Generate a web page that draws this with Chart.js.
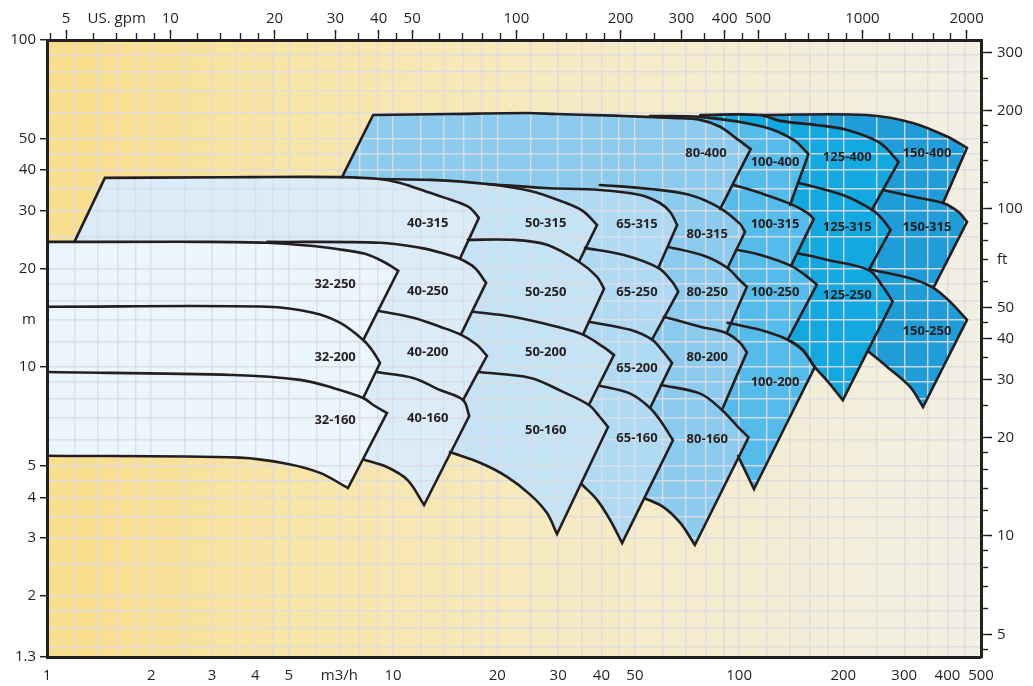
<!DOCTYPE html>
<html>
<head>
<meta charset="utf-8">
<script src="https://cdn.jsdelivr.net/npm/chart.js@4.4.1/dist/chart.umd.min.js"></script>
<style>
  html, body { margin: 0; padding: 0; background: #fff; }
  #wrap { width: 1033px; height: 686px; position: relative; }
</style>
</head>
<body>
<div id="wrap"><canvas id="pumpChart"></canvas></div>
<script>
// axes: flow Q in m3/h (bottom), head H in m (left)
const gridFlow = [1,1.2,1.4,1.6,1.8,2,2.5,3,3.5,4,4.5,5,6,7,8,9,10,12,14,16,18,20,25,30,35,40,45,50,60,70,80,90,100,120,140,160,180,200,250,300,350,400,450,500];
const gridHead = [1.3,1.4,1.6,1.8,2,2.5,3,3.5,4,4.5,5,6,7,8,9,10,12,14,16,18,20,25,30,35,40,45,50,60,70,80,90,100];
const flowLabels = [[1,'1'],[2,'2'],[3,'3'],[4,'4'],[5,'5'],[7,'m3/h'],[10,'10'],[20,'20'],[30,'30'],[40,'40'],[50,'50'],[100,'100'],[200,'200'],[300,'300'],[400,'400'],[500,'500']];
const headLabels = [[1.3,'1.3'],[2,'2'],[3,'3'],[4,'4'],[5,'5'],[10,'10'],[14,'m'],[20,'20'],[30,'30'],[40,'40'],[50,'50'],[100,'100']];
const gpmTicks = [4.5,5,6,7,8,9,10,12,14,16,18,20,25,30,35,40,45,50,60,70,80,90,100,120,140,160,180,200,250,300,350,400,450,500,600,700,800,900,1000,1200,1400,1600,1800,2000];
const gpmLabels = [[5,'5'],[7,'US. gpm'],[10,'10'],[20,'20'],[30,'30'],[40,'40'],[50,'50'],[100,'100'],[200,'200'],[300,'300'],[400,'400'],[500,'500'],[1000,'1000'],[2000,'2000']];
const ftTicks = [4.5,5,6,7,8,9,10,12,14,16,18,20,25,30,35,40,45,50,60,70,80,90,100,120,140,160,180,200,250,300];
const ftLabels = [[5,'5'],[10,'10'],[20,'20'],[30,'30'],[40,'40'],[50,'50'],[70,'ft'],[100,'100'],[200,'200'],[300,'300']];

const GPM = 4.402868;   // US gpm per m3/h
const FT = 3.28084;     // ft per m

// selection fields, [Q, H]: edge = top curve -> tip -> right edge (-> bottom curve),
// under = extra corners tucked beneath the neighbouring fields
const fam150 = [
  { name: '150-400', edge: [[114.8,59.0],[233.9,59.0],[317.4,55.8],[398.9,50.7],[455.5,46.8],[388.4,31.75]], under: [[223.7,31.75],[223.7,49.5]], at: [349.1,45.1] },
  { name: '150-315', edge: [[260.5,34.8],[326.4,33.0],[388.4,31.75],[430.6,29.8],[455.5,27.8],[365.5,17.6]], under: [[223.7,17.6],[223.7,34.8]], at: [349.1,26.8] },
  { name: '150-250', edge: [[239.6,19.88],[312,18.7],[363.1,17.5],[408.2,15.8],[455.5,13.94],[339.9,7.55],[312,8.7],[268.4,10.0],[236.9,11.15]], under: [[223.7,11.15],[223.7,19.88]], at: [349.1,12.9] }
];
const fam125 = [
  { name: '125-400', edge: [[77.2,59.0],[114.8,59.0],[131.3,56.6],[166.7,55.0],[205.3,53.1],[255.2,48.5],[289,42.4],[241.6,30.2]], under: [[182.9,29.2],[131.3,29.2],[114.8,49.5]], at: [205.3,43.9] },
  { name: '125-315', edge: [[148.9,36.56],[199.4,33.6],[243.2,30.2],[260.5,28.2],[274,26.3],[236.9,19.8]], under: [[131.3,19.8],[131.3,36.56]], at: [205.3,26.8] },
  { name: '125-250', edge: [[147.9,22.3],[178.8,21.3],[236.9,19.8],[260.5,17.6],[277.8,15.85],[199.4,7.93],[178.8,9.14],[165.5,10.0],[152.4,11.3],[138.2,12.13]], under: [[131.3,12.13],[131.3,22.3]], at: [205.3,16.6] }
];
const fam100 = [
  { name: '100-400', edge: [[55.3,58.6],[77.2,58.2],[117.4,54.3],[143.7,49.5],[158.6,44.8],[140.3,31.3]], under: [[114.8,31.3],[77.2,31.3],[77.2,49.5]], at: [127,42.4] },
  { name: '100-315', edge: [[96.4,36.05],[114.8,34.1],[140.3,31.6],[157.5,29.6],[164.4,28.4],[141.3,20.4]], under: [[77.2,20.4],[77.2,36.05]], at: [127,27.3] },
  { name: '100-250', edge: [[98.6,22.85],[114.8,22.05],[141.3,20.4],[157.5,18.88],[167.8,17.87],[138.2,12.13]], under: [[77.2,12.13],[77.2,22.85]], at: [127,16.9] },
  { name: '100-200', edge: [[92.6,13.67],[114.8,13.0],[138.2,12.13],[152.4,11.3],[165.5,10.0],[110.4,4.24],[99.3,5.35]], under: [[77.2,5.35],[77.2,13.67]], at: [127,9.0] }
];
const fam80 = [
  { name: '80-400', edge: [[7.12,38.1],[8.76,59.0],[14.6,59.4],[24.4,59.8],[29.6,59.4],[46.2,58.6],[64.4,57.75],[77.2,57.0],[88.1,54.3],[97.7,50.2],[108,46.4],[88.1,30.4]], under: [[77.2,29.2],[7.5,29.2]], corners: [1], at: [80.2,45.1] },
  { name: '80-315', edge: [[39.6,36.05],[55.3,35.05],[72.1,33.6],[88.1,30.65],[100.6,27.4],[104,25.9],[92.6,20.1]], under: [[50,20.1]], at: [80.9,25.4] },
  { name: '80-250', edge: [[62.5,23.3],[78.8,21.93],[92.6,20.1],[100.6,18.4],[105.3,17.6],[92.0,12.7]], under: [[50,12.7],[50,23.3]], at: [80.9,16.9] },
  { name: '80-200', edge: [[60.6,14.26],[77.2,13.29],[92.0,12.7],[100.6,11.87],[105.3,11.1],[89.2,7.4]], under: [[50,7.4],[50,14.26]], at: [80.9,10.7] },
  { name: '80-160', edge: [[59.4,8.82],[77.2,8.3],[89.2,7.4],[99.3,6.56],[106.5,6.1],[74.5,2.86],[67.6,3.34],[60.3,3.74],[53.2,3.98]], under: [[50,3.98],[50,8.82]], at: [80.9,6.03] }
];
const fam65 = [
  { name: '65-315', edge: [[18.68,36.3],[27.4,35.3],[39.6,34.8],[51.8,33.6],[59.0,31.75],[63.2,29.8],[66.2,27.2],[58.4,20.1]], under: [[28.4,20.1]], at: [50.7,27.3] },
  { name: '65-250', edge: [[35.85,23.15],[46.2,22.05],[58.4,20.1],[64.4,18.1],[66.7,17.0],[56.0,12.13]], under: [[28.4,12.13],[28.4,22.85]], at: [50.7,16.9] },
  { name: '65-200', edge: [[36.8,13.77],[48.45,13.0],[56.0,12.13],[60.3,11.15],[64.0,10.3],[55.3,7.5]], under: [[28.4,7.5],[28.4,13.77]], at: [50.7,9.94] },
  { name: '65-160', edge: [[39.6,8.77],[48.45,8.3],[55.3,7.5],[59.8,6.76],[64.4,5.98],[45.9,2.9],[42.4,3.41],[38.85,3.93],[35.2,4.37]], under: [[28.4,4.37],[28.4,8.77]], at: [50.7,6.07] }
];
const fam50 = [
  { name: '50-315', edge: [[9.17,37.6],[12.79,37.35],[18.68,36.3],[24.95,34.56],[31.0,32.0],[35.4,30.0],[38.85,27.2],[34.45,21.0]], under: [[13.67,21.0]], at: [27.6,27.5] },
  { name: '50-250', edge: [[16.45,24.5],[22.2,24.5],[27.85,23.66],[34.45,21.0],[38.85,18.88],[40.7,17.36],[35.4,12.57]], under: [[13.67,12.57],[13.67,24.5]], at: [27.6,16.9] },
  { name: '50-200', edge: [[17.0,14.77],[22.2,14.26],[29.77,13.29],[35.4,12.57],[40.4,11.55],[43.5,10.9],[36.8,7.66]], under: [[13.67,7.66],[13.67,14.77]], at: [27.6,11.1] },
  { name: '50-160', edge: [[17.6,9.66],[24.95,9.27],[31.0,8.4],[36.8,7.66],[39.6,7.04],[41.8,6.56],[29.77,3.09],[27.85,3.58],[24.95,4.07],[21.36,4.62],[17.84,5.1],[14.6,5.5]], under: [[13.67,5.5],[13.67,9.66]], at: [27.6,6.43] }
];
const fam40 = [
  { name: '40-315', edge: [[1.2,24.15],[1.47,37.9],[3.86,38.1],[7.02,38.1],[9.17,37.6],[10.49,36.56],[12.79,34.1],[15.3,32.0],[16.7,30.66],[17.7,28.6],[15.6,21.44]], under: [[5.39,21.44]], corners: [1], at: [12.6,27.5] },
  { name: '40-250', edge: [[4.33,24.15],[9.17,24.0],[12,23.15],[14.13,22.2],[15.6,21.44],[17.24,20.1],[18.57,18.1],[15.7,12.57]], under: [[4.2,12.57]], at: [12.6,17.0] },
  { name: '40-200', edge: [[9.05,14.87],[11.43,14.16],[13.67,13.29],[15.7,12.57],[17.46,11.71],[18.68,10.83],[15.93,7.93]], under: [[5.39,7.93],[5.39,14.87]], at: [12.6,11.1] },
  { name: '40-160', edge: [[8.94,9.66],[11.43,9.27],[13.67,8.51],[15.93,7.93],[16.6,7.09],[12.29,3.79],[11,4.52],[9.6,4.95],[8.2,5.22]], under: [[5.39,5.61],[5.39,9.66]], at: [12.6,7.0] }
];
const fam32 = [
  { name: '32-250', edge: [[1,24.15],[2.77,24.15],[4.33,24.0],[5.76,23.5],[6.8,23.0],[8.3,22.2],[9.5,20.85],[10.35,19.7],[8.2,12.1]], under: [[1,12.1]], at: [6.8,17.87] },
  { name: '32-200', edge: [[1,15.3],[4.33,15.3],[5.87,14.67],[7.02,13.67],[8.2,12.1],[8.76,11.15],[9.17,10.3],[8.2,8.05]], under: [[1,8.05]], at: [6.8,10.7] },
  { name: '32-160', edge: [[1,9.66],[3.45,9.46],[5.39,9.14],[6.71,8.64],[8.2,8.05],[8.76,7.66],[9.6,7.24],[7.41,4.27],[6.15,4.75],[4.97,5.06],[3.61,5.29],[1,5.36]], under: [], at: [6.8,6.9] }
];

const familyColor = { '32': '#EAF5FC', '40': '#DBEBF7', '50': '#C6E3F6', '65': '#B0DAF3', '80': '#8DCBEE', '100': '#55BBEA', '125': '#13A8E0', '150': '#209DD8' };
const ink = '#231F20';
const gridColor = 'rgba(222,220,226,0.9)';
const clear = 'rgba(0,0,0,0)';
const font = { family: "'Open Sans', sans-serif", size: 15 };

// right-hand families first, the left ones are laid over them
const drawList = [fam150, fam125, fam100, fam80, fam65, fam50, fam40, fam32].flat();

const pick = (pairs) => (v) => { const p = pairs.find(e => e[0] === v); return p ? p[1] : ''; };
const setTicks = (vals) => (scale) => { scale.ticks = vals.map(v => ({ value: v })); };

// smooth stroke through a run of pixel points; tangent length follows each segment
function traceRun(ctx, pts) {
  const n = pts.length;
  const dir = pts.map((p, i) => {
    const a = pts[Math.max(i - 1, 0)], b = pts[Math.min(i + 1, n - 1)];
    const dx = b[0] - a[0], dy = b[1] - a[1], l = Math.hypot(dx, dy) || 1;
    return [dx / l, dy / l];
  });
  for (let i = 0; i < n - 1; i++) {
    const p1 = pts[i], p2 = pts[i + 1];
    const d = Math.hypot(p2[0] - p1[0], p2[1] - p1[1]) / 3;
    ctx.bezierCurveTo(p1[0] + dir[i][0] * d, p1[1] + dir[i][1] * d,
                      p2[0] - dir[i + 1][0] * d, p2[1] - dir[i + 1][1] * d, p2[0], p2[1]);
  }
}

const paperPlugin = {
  id: 'paper',
  beforeDraw(chart) {
    const { ctx, chartArea: a } = chart;
    ctx.save();
    ctx.fillStyle = '#fff';
    ctx.fillRect(0, 0, chart.width, chart.height);
    const g = ctx.createLinearGradient(a.left, 0, a.right, 0);
    g.addColorStop(0, 'rgb(249,221,138)');
    g.addColorStop(0.25, 'rgb(248,228,165)');
    g.addColorStop(0.5, 'rgb(246,233,189)');
    g.addColorStop(0.75, 'rgb(244,237,210)');
    g.addColorStop(1, 'rgb(242,239,229)');
    ctx.fillStyle = g;
    ctx.fillRect(a.left, a.top, a.right - a.left, a.bottom - a.top);
    ctx.restore();
  }
};

const outlinePlugin = {
  id: 'outline',
  afterDraw(chart) {
    const { ctx, chartArea: a, scales: { x, y } } = chart;
    ctx.save();
    ctx.beginPath();
    ctx.rect(a.left, a.top, a.right - a.left, a.bottom - a.top);
    ctx.clip();
    ctx.strokeStyle = ink;
    ctx.lineWidth = 2.6;
    ctx.lineJoin = 'miter';
    ctx.lineCap = 'round';
    drawList.forEach(f => {
      const pts = f.edge.map(([q, h]) => [x.getPixelForValue(q), y.getPixelForValue(h)]);
      let tip = 0;
      pts.forEach((p, i) => { if (p[0] > pts[tip][0]) tip = i; });
      const breaks = [...new Set([0, ...(f.corners || []), tip, Math.min(tip + 1, pts.length - 1), pts.length - 1])].sort((m, n) => m - n);
      ctx.beginPath();
      ctx.moveTo(pts[0][0], pts[0][1]);
      for (let k = 0; k < breaks.length - 1; k++) traceRun(ctx, pts.slice(breaks[k], breaks[k + 1] + 1));
      ctx.stroke();
    });
    ctx.font = "bold 13px 'Open Sans', sans-serif";
    ctx.fillStyle = ink;
    ctx.textAlign = 'center';
    ctx.textBaseline = 'middle';
    drawList.forEach(f => ctx.fillText(f.name, x.getPixelForValue(f.at[0]), y.getPixelForValue(f.at[1])));
    ctx.restore();
  }
};

const datasets = drawList.map((f, i) => ({
  label: f.name,
  data: f.edge.concat(f.under).map(([q, h]) => ({ x: q, y: h })),
  fill: 'shape',
  backgroundColor: familyColor[f.name.split('-')[0]],
  borderWidth: 0,
  pointRadius: 0,
  pointHoverRadius: 0,
  order: drawList.length - i
}));

new Chart(document.getElementById('pumpChart'), {
  type: 'line',
  data: { datasets },
  plugins: [paperPlugin, outlinePlugin],
  options: {
    responsive: true,
    maintainAspectRatio: false,
    animation: false,
    events: [],
    layout: { padding: 0 },
    plugins: { legend: { display: false }, tooltip: { enabled: false } },
    scales: {
      x: {
        type: 'logarithmic', position: 'bottom', min: 1, max: 500,
        afterBuildTicks: setTicks(gridFlow),
        afterFit: s => { s.height = 29; },
        grid: { color: gridColor, lineWidth: 1.4, drawTicks: false, z: 1 },
        border: { color: ink, width: 3, z: 2 },
        ticks: { callback: pick(flowLabels), autoSkip: false, maxRotation: 0, padding: 10, color: ink, font }
      },
      y: {
        type: 'logarithmic', position: 'left', min: 1.3, max: 100,
        afterBuildTicks: setTicks(gridHead),
        afterFit: s => { s.width = 47; },
        grid: {
          color: gridColor, lineWidth: 1.4, tickLength: 7, tickWidth: 1.5, z: 1,
          tickColor: c => (c.tick && c.tick.value !== 14 && pick(headLabels)(c.tick.value)) ? ink : clear
        },
        border: { color: ink, width: 3, z: 2 },
        ticks: { callback: pick(headLabels), autoSkip: false, padding: 4, color: ink, font }
      },
      gpm: {
        type: 'logarithmic', axis: 'x', position: 'top', weight: 0, min: GPM, max: 500 * GPM,
        afterBuildTicks: setTicks(gpmTicks),
        afterFit: s => { s.height = 7; },
        grid: { drawOnChartArea: false, tickLength: 7, tickColor: ink, tickWidth: 1.4 },
        border: { color: ink, width: 3, z: 2 },
        ticks: { display: false }
      },
      gpmMajor: {
        type: 'logarithmic', axis: 'x', position: 'top', weight: 1, min: GPM, max: 500 * GPM,
        afterBuildTicks: setTicks(gpmLabels.map(p => p[0])),
        afterFit: s => { s.height = 33; },
        grid: { drawOnChartArea: false, tickLength: 3, tickWidth: 1.6, tickColor: c => (c.tick && c.tick.value === 7) ? clear : ink },
        border: { display: false },
        ticks: { callback: pick(gpmLabels), autoSkip: false, maxRotation: 0, padding: 2, color: ink, font }
      },
      ft: {
        type: 'logarithmic', axis: 'y', position: 'right', weight: 0, min: 1.3 * FT, max: 100 * FT,
        afterBuildTicks: setTicks(ftTicks),
        afterFit: s => { s.width = 7; },
        grid: { drawOnChartArea: false, tickLength: 7, tickColor: ink, tickWidth: 1.4 },
        border: { color: ink, width: 3, z: 2 },
        ticks: { display: false }
      },
      ftMajor: {
        type: 'logarithmic', axis: 'y', position: 'right', weight: 1, min: 1.3 * FT, max: 100 * FT,
        afterBuildTicks: setTicks(ftLabels.map(p => p[0])),
        afterFit: s => { s.width = 45; },
        grid: { drawOnChartArea: false, tickLength: 4, tickWidth: 1.6, tickColor: c => (c.tick && c.tick.value === 70) ? clear : ink },
        border: { display: false },
        ticks: { callback: pick(ftLabels), autoSkip: false, padding: 5, color: ink, font }
      }
    }
  }
});
</script>
</body>
</html>
